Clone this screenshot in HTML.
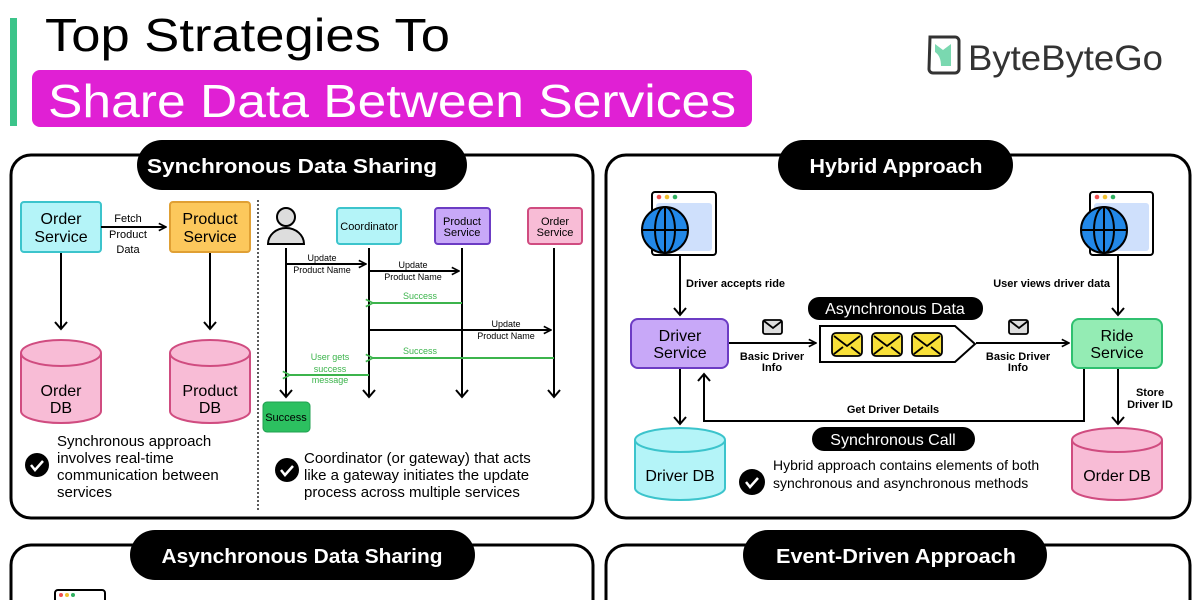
<!DOCTYPE html>
<html><head><meta charset="utf-8"><style>
html,body{margin:0;padding:0;background:#fff;}
svg{display:block;font-family:"Liberation Sans",sans-serif;}
</style></head><body>
<svg width="1200" height="600" viewBox="0 0 1200 600" xmlns="http://www.w3.org/2000/svg">
<defs>
<marker id="a" viewBox="0 0 10 10" refX="9" refY="5" markerWidth="9" markerHeight="9" orient="auto-start-reverse" markerUnits="userSpaceOnUse"><path d="M1,1 L9,5 L1,9" fill="none" stroke="#000" stroke-width="1.8"/></marker>
<marker id="g" viewBox="0 0 10 10" refX="1" refY="5" markerWidth="9" markerHeight="9" orient="auto" markerUnits="userSpaceOnUse"><path d="M9,1 L1,5 L9,9" fill="none" stroke="#3cb44c" stroke-width="1.8"/></marker>
<marker id="d" viewBox="0 0 14 14" refX="7" refY="12" markerWidth="14" markerHeight="14" orient="0" markerUnits="userSpaceOnUse"><path d="M1,5 L7,12 L13,5" fill="none" stroke="#000" stroke-width="2"/></marker>
</defs>
<!-- header -->
<rect x="10" y="18" width="7" height="108" fill="#3cc48a"/>
<text x="45" y="51" font-size="46" textLength="405" lengthAdjust="spacingAndGlyphs">Top Strategies To</text>
<rect x="32" y="70" width="720" height="57" rx="8" fill="#e020d4"/>
<text x="48" y="117" font-size="46" fill="#fff" textLength="688" lengthAdjust="spacingAndGlyphs">Share Data Between Services</text>
<!-- logo -->
<path d="M930,37 h25 a4,4 0 0 1 4,4 v28 a4,4 0 0 1 -4,4 h-22 a4,4 0 0 1 -4,-4 z" fill="none" stroke="#333" stroke-width="3"/>
<path d="M935,44 l8,6 l8,-6 v22 h-10 q0,-10 -6,-14 z" fill="#7ad8b0"/>
<text x="968" y="70" font-size="35" fill="#333" textLength="195" lengthAdjust="spacingAndGlyphs">ByteByteGo</text>

<!-- panel 1 -->
<rect x="11" y="155" width="582" height="363" rx="20" fill="#fff" stroke="#000" stroke-width="3"/>
<rect x="137" y="140" width="330" height="50" rx="25" fill="#000"/>
<text x="292" y="173" font-size="20" font-weight="bold" fill="#fff" text-anchor="middle" textLength="290" lengthAdjust="spacingAndGlyphs">Synchronous Data Sharing</text>
<rect x="21" y="202" width="80" height="50" rx="3" fill="#b4f4f8" stroke="#3cc4cc" stroke-width="2"/>
<text x="61" y="224" font-size="16" text-anchor="middle">Order</text><text x="61" y="242" font-size="16" text-anchor="middle">Service</text>
<rect x="170" y="202" width="80" height="50" rx="3" fill="#fcc85c" stroke="#e0a034" stroke-width="2"/>
<text x="210" y="224" font-size="16" text-anchor="middle">Product</text><text x="210" y="242" font-size="16" text-anchor="middle">Service</text>
<line x1="101" y1="227" x2="166" y2="227" stroke="#000" stroke-width="2" marker-end="url(#a)"/>
<text x="128" y="222" font-size="11" text-anchor="middle">Fetch</text><text x="128" y="238" font-size="11" text-anchor="middle">Product</text><text x="128" y="253" font-size="11" text-anchor="middle">Data</text>
<line x1="61" y1="253" x2="61" y2="329" stroke="#000" stroke-width="2" marker-end="url(#d)"/>
<line x1="210" y1="253" x2="210" y2="329" stroke="#000" stroke-width="2" marker-end="url(#d)"/>
<g fill="#f8bcd6" stroke="#d04c80" stroke-width="2">
<path d="M21,353 v58 a40,12 0 0 0 80,0 v-58"/><ellipse cx="61" cy="353" rx="40" ry="13"/>
<path d="M170,353 v58 a40,12 0 0 0 80,0 v-58"/><ellipse cx="210" cy="353" rx="40" ry="13"/>
</g>
<text x="61" y="396" font-size="16" text-anchor="middle">Order</text><text x="61" y="413" font-size="16" text-anchor="middle">DB</text>
<text x="210" y="396" font-size="16" text-anchor="middle">Product</text><text x="210" y="413" font-size="16" text-anchor="middle">DB</text>
<circle cx="37" cy="465" r="12" fill="#000"/><path d="M31,465 l4,5 l8,-9" fill="none" stroke="#fff" stroke-width="2.5"/>
<g font-size="15"><text x="57" y="446">Synchronous approach</text><text x="57" y="463">involves real-time</text><text x="57" y="480">communication between</text><text x="57" y="497">services</text></g>
<line x1="258" y1="200" x2="258" y2="510" stroke="#000" stroke-width="1.3" stroke-dasharray="2,2"/>
<!-- sequence -->
<circle cx="286" cy="217" r="9" fill="#ddd" stroke="#000" stroke-width="2"/>
<path d="M268,244 a18,16 0 0 1 36,0 z" fill="#ddd" stroke="#000" stroke-width="2"/>
<rect x="337" y="208" width="64" height="36" rx="3" fill="#b4f4f8" stroke="#3cc4cc" stroke-width="2"/>
<text x="369" y="230" font-size="11" text-anchor="middle">Coordinator</text>
<rect x="435" y="208" width="55" height="36" rx="3" fill="#c8a8f8" stroke="#6c3cc4" stroke-width="2"/>
<text x="462" y="225" font-size="11" text-anchor="middle">Product</text><text x="462" y="236" font-size="11" text-anchor="middle">Service</text>
<rect x="528" y="208" width="54" height="36" rx="3" fill="#f8bcd6" stroke="#d04c80" stroke-width="2"/>
<text x="555" y="225" font-size="11" text-anchor="middle">Order</text><text x="555" y="236" font-size="11" text-anchor="middle">Service</text>
<g stroke="#000" stroke-width="2">
<line x1="286" y1="248" x2="286" y2="397" marker-end="url(#d)"/>
<line x1="369" y1="248" x2="369" y2="397" marker-end="url(#d)"/>
<line x1="462" y1="248" x2="462" y2="397" marker-end="url(#d)"/>
<line x1="554" y1="248" x2="554" y2="397" marker-end="url(#d)"/>
<line x1="286" y1="264" x2="366" y2="264" marker-end="url(#a)"/>
<line x1="369" y1="271" x2="459" y2="271" marker-end="url(#a)"/>
<line x1="369" y1="330" x2="551" y2="330" marker-end="url(#a)"/>
</g>
<g stroke="#3cb44c" stroke-width="2">
<line x1="462" y1="303" x2="373" y2="303" marker-end="url(#g)"/>
<line x1="554" y1="358" x2="373" y2="358" marker-end="url(#g)"/>
<line x1="369" y1="375" x2="290" y2="375" marker-end="url(#g)"/>
</g>
<g font-size="9" text-anchor="middle">
<text x="322" y="261">Update</text><text x="322" y="273">Product Name</text>
<text x="413" y="268">Update</text><text x="413" y="280">Product Name</text>
<text x="506" y="327">Update</text><text x="506" y="339">Product Name</text>
</g>
<g font-size="9" text-anchor="middle" fill="#3cb44c">
<text x="420" y="299">Success</text><text x="420" y="354">Success</text>
<text x="330" y="360">User gets</text><text x="330" y="372">success</text><text x="330" y="383">message</text>
</g>
<rect x="263" y="402" width="47" height="30" rx="4" fill="#2cc060" stroke="#20a050" stroke-width="1"/>
<text x="286" y="421" font-size="11" text-anchor="middle">Success</text>
<circle cx="287" cy="470" r="12" fill="#000"/><path d="M281,470 l4,5 l8,-9" fill="none" stroke="#fff" stroke-width="2.5"/>
<g font-size="15"><text x="304" y="463">Coordinator (or gateway) that acts</text><text x="304" y="480">like a gateway initiates the update</text><text x="304" y="497">process across multiple services</text></g>

<!-- panel 2 -->
<rect x="606" y="155" width="584" height="363" rx="20" fill="#fff" stroke="#000" stroke-width="3"/>
<rect x="778" y="140" width="235" height="50" rx="25" fill="#000"/>
<text x="896" y="173" font-size="20" font-weight="bold" fill="#fff" text-anchor="middle" textLength="173" lengthAdjust="spacingAndGlyphs">Hybrid Approach</text>
<g>
<rect x="652" y="192" width="64" height="63" rx="3" fill="#fff" stroke="#000" stroke-width="2"/>
<rect x="656" y="203" width="56" height="48" rx="3" fill="#cfe0fc"/>
<circle cx="659" cy="197" r="2.3" fill="#f05050"/><circle cx="667" cy="197" r="2.3" fill="#f0c030"/><circle cx="675" cy="197" r="2.3" fill="#30b060"/>
<circle cx="665" cy="230" r="23" fill="#2288e8" stroke="#000" stroke-width="2"/>
<ellipse cx="665" cy="230" rx="10" ry="23" fill="none" stroke="#000" stroke-width="2"/><line x1="665" y1="207" x2="665" y2="253" stroke="#000" stroke-width="2"/><line x1="642" y1="230" x2="688" y2="230" stroke="#000" stroke-width="2"/>
</g>
<g>
<rect x="1090" y="192" width="63" height="63" rx="3" fill="#fff" stroke="#000" stroke-width="2"/>
<rect x="1094" y="203" width="55" height="48" rx="3" fill="#cfe0fc"/>
<circle cx="1097" cy="197" r="2.3" fill="#f05050"/><circle cx="1105" cy="197" r="2.3" fill="#f0c030"/><circle cx="1113" cy="197" r="2.3" fill="#30b060"/>
<circle cx="1104" cy="230" r="23" fill="#2288e8" stroke="#000" stroke-width="2"/>
<ellipse cx="1104" cy="230" rx="10" ry="23" fill="none" stroke="#000" stroke-width="2"/><line x1="1104" y1="207" x2="1104" y2="253" stroke="#000" stroke-width="2"/><line x1="1081" y1="230" x2="1127" y2="230" stroke="#000" stroke-width="2"/>
</g>
<g stroke="#000" stroke-width="2">
<line x1="680" y1="254" x2="680" y2="315" marker-end="url(#d)"/>
<line x1="1118" y1="254" x2="1118" y2="315" marker-end="url(#d)"/>
<line x1="728" y1="343" x2="816" y2="343" marker-end="url(#a)"/>
<line x1="976" y1="343" x2="1069" y2="343" marker-end="url(#a)"/>
<line x1="680" y1="369" x2="680" y2="424" marker-end="url(#d)"/>
<line x1="1118" y1="369" x2="1118" y2="424" marker-end="url(#d)"/>
<polyline points="1084,369 1084,421 704,421 704,375" fill="none"/>
<path d="M698,381 L704,374 L710,381" fill="none"/>
</g>
<g font-size="11" font-weight="bold">
<text x="686" y="287">Driver accepts ride</text>
<text x="1110" y="287" text-anchor="end">User views driver data</text>
<text x="772" y="360" text-anchor="middle">Basic Driver</text><text x="772" y="371" text-anchor="middle">Info</text>
<text x="1018" y="360" text-anchor="middle">Basic Driver</text><text x="1018" y="371" text-anchor="middle">Info</text>
<text x="893" y="413" text-anchor="middle">Get Driver Details</text>
<text x="1150" y="396" text-anchor="middle">Store</text><text x="1150" y="408" text-anchor="middle">Driver ID</text>
</g>
<rect x="631" y="319" width="97" height="49" rx="7" fill="#c8a8f8" stroke="#6c3cc4" stroke-width="2"/>
<text x="680" y="341" font-size="16" text-anchor="middle">Driver</text><text x="680" y="358" font-size="16" text-anchor="middle">Service</text>
<rect x="1072" y="319" width="90" height="49" rx="7" fill="#94ecb4" stroke="#30c070" stroke-width="2"/>
<text x="1117" y="341" font-size="16" text-anchor="middle">Ride</text><text x="1117" y="358" font-size="16" text-anchor="middle">Service</text>
<rect x="808" y="297" width="175" height="23" rx="11" fill="#000"/>
<text x="895" y="314" font-size="16" fill="#fff" text-anchor="middle">Asynchronous Data</text>
<path d="M820,326 H955 L975,344 L955,362 H820 Z" fill="#fff" stroke="#000" stroke-width="2"/>
<g stroke="#000" stroke-width="1.8">
<rect x="832" y="333" width="30" height="23" rx="4" fill="#f8e038"/><path d="M834,336 l13,10 l13,-10 M834,354 l9,-7 M860,354 l-9,-7" fill="none"/>
<rect x="872" y="333" width="30" height="23" rx="4" fill="#f8e038"/><path d="M874,336 l13,10 l13,-10 M874,354 l9,-7 M900,354 l-9,-7" fill="none"/>
<rect x="912" y="333" width="30" height="23" rx="4" fill="#f8e038"/><path d="M914,336 l13,10 l13,-10 M914,354 l9,-7 M940,354 l-9,-7" fill="none"/>
<rect x="763" y="320" width="19" height="14" rx="2" fill="#ddd"/><path d="M764,321 l9,7 l9,-7" fill="none"/>
<rect x="1009" y="320" width="19" height="14" rx="2" fill="#ddd"/><path d="M1010,321 l9,7 l9,-7" fill="none"/>
</g>
<g stroke-width="2">
<path d="M635,440 v48 a45,12 0 0 0 90,0 v-48" fill="#b4f4f8" stroke="#3cc4cc"/><ellipse cx="680" cy="440" rx="45" ry="12" fill="#b4f4f8" stroke="#3cc4cc"/>
<path d="M1072,440 v48 a45,12 0 0 0 90,0 v-48" fill="#f8bcd6" stroke="#d04c80"/><ellipse cx="1117" cy="440" rx="45" ry="12" fill="#f8bcd6" stroke="#d04c80"/>
</g>
<text x="680" y="481" font-size="16" text-anchor="middle">Driver DB</text>
<text x="1117" y="481" font-size="16" text-anchor="middle">Order DB</text>
<rect x="812" y="427" width="163" height="24" rx="12" fill="#000"/>
<text x="893" y="445" font-size="16" fill="#fff" text-anchor="middle">Synchronous Call</text>
<circle cx="752" cy="482" r="13" fill="#000"/><path d="M746,482 l4,5 l8,-9" fill="none" stroke="#fff" stroke-width="2.5"/>
<g font-size="14"><text x="773" y="470">Hybrid approach contains elements of both</text><text x="773" y="488">synchronous and asynchronous methods</text></g>

<!-- bottom panels -->
<rect x="11" y="545" width="582" height="80" rx="20" fill="#fff" stroke="#000" stroke-width="3"/>
<rect x="130" y="530" width="345" height="50" rx="25" fill="#000"/>
<text x="302" y="563" font-size="20" font-weight="bold" fill="#fff" text-anchor="middle" textLength="281" lengthAdjust="spacingAndGlyphs">Asynchronous Data Sharing</text>
<rect x="606" y="545" width="584" height="80" rx="20" fill="#fff" stroke="#000" stroke-width="3"/>
<rect x="743" y="530" width="304" height="50" rx="25" fill="#000"/>
<text x="896" y="563" font-size="20" font-weight="bold" fill="#fff" text-anchor="middle" textLength="240" lengthAdjust="spacingAndGlyphs">Event-Driven Approach</text>
<rect x="55" y="590" width="50" height="20" rx="3" fill="#fff" stroke="#000" stroke-width="2"/>
<circle cx="61" cy="595" r="2" fill="#f05050"/><circle cx="67" cy="595" r="2" fill="#f0c030"/><circle cx="73" cy="595" r="2" fill="#30b060"/>
</svg>
</body></html>
